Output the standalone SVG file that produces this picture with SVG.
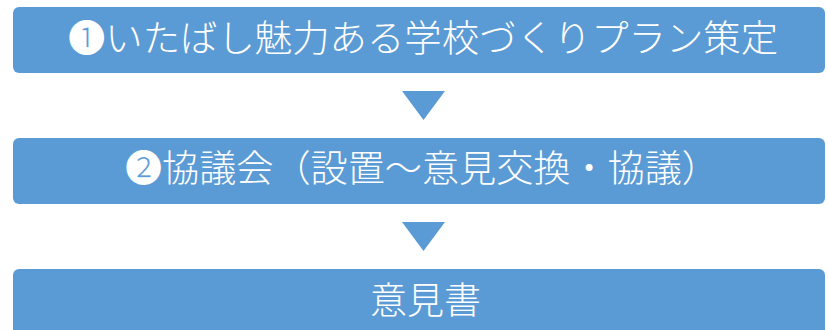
<svg xmlns="http://www.w3.org/2000/svg" width="828" height="330" viewBox="0 0 828 330">
<style>
.box{fill:#5B9BD5;}
.lbl{fill:#ffffff;font-family:"Noto Sans CJK JP","Noto Sans CJK SC",sans-serif;font-size:37px;font-weight:300;}
.arr{fill:#5B9BD5;}
</style>
<rect width="828" height="330" fill="#ffffff"/>
<g id="node1">
<rect class="box" x="13" y="7" width="812" height="66" rx="6"/>
<text class="lbl" x="68" y="52" textLength="710" lengthAdjust="spacingAndGlyphs">❶いたばし魅力ある学校づくりプラン策定</text>
</g>
<g id="node2">
<rect class="box" x="13" y="138" width="812" height="66" rx="6"/>
<text class="lbl" x="125" y="182" textLength="594" lengthAdjust="spacingAndGlyphs">❷協議会（設置～意見交換・協議）</text>
</g>
<g id="node3">
<rect class="box" x="13" y="269" width="812" height="80" rx="6"/>
<text class="lbl" x="370" y="314" textLength="111" lengthAdjust="spacingAndGlyphs">意見書</text>
</g>
<g id="connectors">
<polygon class="arr" points="402,91 445,91 423.5,120"/>
<polygon class="arr" points="402,222 445,222 423.5,251"/>
</g>
</svg>
